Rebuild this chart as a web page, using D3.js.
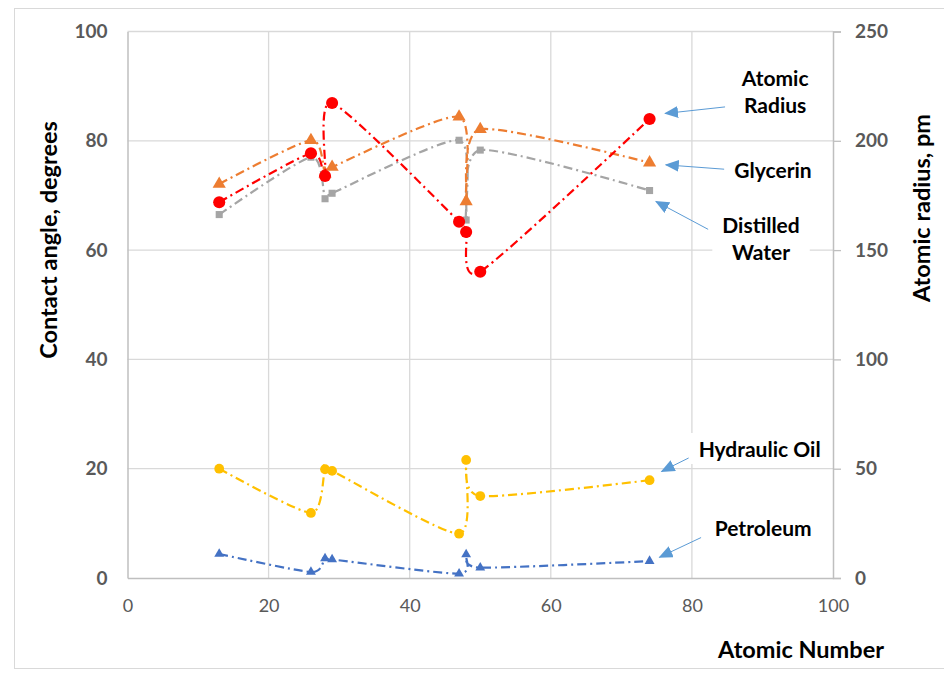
<!DOCTYPE html>
<html>
<head>
<meta charset="utf-8">
<script src="https://cdn.jsdelivr.net/npm/d3@7"></script>
<style>
  body { margin: 0; background: #fff; }
  svg text { font-family: Lato, "Open Sans", sans-serif; }
</style>
</head>
<body>
<svg class="chart"></svg>
<script>
// Chart data
var atomicNumber   = [13, 26, 28, 29, 47, 48, 50, 74];
var distilledWater = [66.5, 77.0, 69.4, 70.4, 80.1, 65.5, 78.3, 70.9];
var glycerin       = [72.1, 80.1, 74.0, 75.2, 84.4, 68.9, 82.1, 76.0];
var hydraulicOil   = [20.0, 11.9, 19.9, 19.6, 8.1, 21.6, 15.0, 17.9];
var petroleum      = [4.4, 1.1, 3.6, 3.4, 0.8, 4.3, 1.9, 3.1];
var atomicRadius   = [171.9, 194.3, 183.9, 217.3, 163.0, 158.3, 140.1, 210.0];

var xTicks = [0, 20, 40, 60, 80, 100];
var leftTicks = [0, 20, 40, 60, 80, 100];
var rightTicks = [0, 50, 100, 150, 200, 250];

// Annotation labels with arrows (given in left-axis data units)
var annotations = [
    { lines: ["Atomic", "Radius"], tx: 91.8, ty: [91.5, 86.7], from: [84.7, 86.2], to: [76.2, 85.0] },
    { lines: ["Glycerin"], tx: 91.5, ty: [74.7], from: [84.6, 74.8], to: [76.3, 75.6] },
    { lines: ["Distilled", "Water"], tx: 89.8, ty: [64.6, 59.7], from: [82.3, 63.8], to: [74.9, 68.9] },
    { lines: ["Hydraulic Oil"], tx: 89.6, ty: [23.7], from: [79.6, 22.0], to: [75.7, 19.5] },
    { lines: ["Petroleum"], tx: 90.1, ty: [9.2], from: [81.3, 7.4], to: [75.4, 3.8] }
];

var width = 944, height = 677;
var plotLeft = 127.5, plotRight = 833, plotTop = 31.5, plotBottom = 578;

var svg = d3.select(".chart").attr("width", width).attr("height", height);

// Outer chart border
svg.append("rect")
    .attr("x", 14.5).attr("y", 8.5)
    .attr("width", 940).attr("height", 660)
    .attr("fill", "none").attr("stroke", "#d9d9d9");

var xScale = d3.scaleLinear().domain([0, 100]).range([plotLeft, plotRight]);
var yLeft = d3.scaleLinear().domain([0, 100]).range([plotBottom, plotTop]);
var yRight = d3.scaleLinear().domain([0, 250]).range([plotBottom, plotTop]);

// Gridlines
svg.append("g").selectAll("line.h").data(leftTicks.slice(1))
    .enter().append("line")
    .attr("x1", plotLeft).attr("x2", plotRight)
    .attr("y1", function(d) { return yLeft(d); })
    .attr("y2", function(d) { return yLeft(d); })
    .attr("stroke", "#d9d9d9").attr("stroke-width", 1.3);

svg.append("g").selectAll("line.v").data(xTicks.slice(1, -1))
    .enter().append("line")
    .attr("x1", function(d) { return xScale(d); })
    .attr("x2", function(d) { return xScale(d); })
    .attr("y1", plotTop).attr("y2", plotBottom)
    .attr("stroke", "#d9d9d9").attr("stroke-width", 1.3);

// Axes
var xAxis = svg.append("g")
    .attr("transform", "translate(0," + plotBottom + ")")
    .call(d3.axisBottom(xScale).tickValues(xTicks).tickSize(0).tickPadding(21));

var leftAxis = svg.append("g")
    .attr("transform", "translate(" + plotLeft + ",0)")
    .call(d3.axisLeft(yLeft).tickValues(leftTicks).tickSize(0).tickPadding(20));

var rightAxis = svg.append("g")
    .attr("transform", "translate(" + plotRight + ",0)")
    .call(d3.axisRight(yRight).tickValues(rightTicks).tickSize(8).tickPadding(14));

[xAxis, leftAxis, rightAxis].forEach(function(a) {
    a.select(".domain").attr("stroke", "#bfbfbf").attr("stroke-width", 1.5);
    a.selectAll(".tick line").attr("stroke", "#bfbfbf").attr("stroke-width", 1.3);
    a.selectAll("text").attr("fill", "#595959").attr("font-family", "Lato, sans-serif");
});
xAxis.selectAll("text").attr("font-size", 18);
leftAxis.selectAll("text").attr("font-size", 19).attr("font-weight", "bold");
rightAxis.selectAll("text").attr("font-size", 19).attr("font-weight", "bold");

// Axis titles
svg.append("text")
    .attr("transform", "translate(48,240) rotate(-90)")
    .attr("text-anchor", "middle").attr("dominant-baseline", "central")
    .attr("font-size", 23.5).attr("font-weight", "bold")
    .text("Contact angle, degrees");

svg.append("text")
    .attr("transform", "translate(921,208) rotate(-90)")
    .attr("text-anchor", "middle").attr("dominant-baseline", "central")
    .attr("font-size", 23.5).attr("font-weight", "bold")
    .text("Atomic radius, pm");

svg.append("text")
    .attr("x", 801).attr("y", 649)
    .attr("text-anchor", "middle").attr("dominant-baseline", "central")
    .attr("font-size", 23.5).attr("font-weight", "bold")
    .text("Atomic Number");

// Series definitions
var series = [
    { name: "Distilled Water", values: distilledWater, y: yLeft, color: "#a5a5a5", symbol: d3.symbolSquare, size: 50 },
    { name: "Glycerin", values: glycerin, y: yLeft, color: "#ed7d31", symbol: d3.symbolTriangle, size: 75 },
    { name: "Hydraulic Oil", values: hydraulicOil, y: yLeft, color: "#ffc000", symbol: d3.symbolCircle, size: 75 },
    { name: "Petroleum", values: petroleum, y: yLeft, color: "#4472c4", symbol: d3.symbolTriangle, size: 42 },
    { name: "Atomic Radius", values: atomicRadius, y: yRight, color: "#ff0000", symbol: d3.symbolCircle, size: 115 }
];

series.forEach(function(s) {
    var pts = atomicNumber.map(function(x, i) { return [xScale(x), s.y(s.values[i])]; });

    // Smoothed line, similar to the spreadsheet's smoothing
    var line = d3.line().curve(d3.curveCardinal.tension(0.3));

    var g = svg.append("g").attr("class", "series");
    g.append("path")
        .attr("d", line(pts))
        .attr("fill", "none")
        .attr("stroke", s.color)
        .attr("stroke-width", 2.2)
        .attr("stroke-dasharray", "9,4,2,4");

    g.selectAll("path.marker").data(pts)
        .enter().append("path")
        .attr("class", "marker")
        .attr("transform", function(d) { return "translate(" + d[0] + "," + d[1] + ")"; })
        .attr("d", d3.symbol().type(s.symbol).size(s.size))
        .attr("fill", s.color);
});

// Arrowhead for annotations
svg.append("defs").append("marker")
    .attr("id", "arrow")
    .attr("markerUnits", "userSpaceOnUse")
    .attr("markerWidth", 14).attr("markerHeight", 12)
    .attr("refX", 13).attr("refY", 6)
    .attr("orient", "auto")
    .append("path")
    .attr("d", "M0,0 L14,6 L0,12 Z")
    .attr("fill", "#5b9bd5");

var notes = svg.append("g").attr("class", "annotations");

annotations.forEach(function(a) {
    notes.append("line")
        .attr("x1", xScale(a.from[0])).attr("y1", yLeft(a.from[1]))
        .attr("x2", xScale(a.to[0])).attr("y2", yLeft(a.to[1]))
        .attr("stroke", "#5b9bd5").attr("stroke-width", 1)
        .attr("marker-end", "url(#arrow)");

    var block = notes.append("g");
    a.lines.forEach(function(t, i) {
        block.append("text")
            .attr("x", xScale(a.tx)).attr("y", yLeft(a.ty[i]))
            .attr("text-anchor", "middle").attr("dominant-baseline", "central")
            .attr("font-size", 21).attr("font-weight", "bold")
            .attr("fill", "#000")
            .text(t);
    });

    // White box behind the label, like the reference text boxes
    var bb = block.node().getBBox();
    block.insert("rect", "text")
        .attr("x", bb.x - 10).attr("y", bb.y - 3)
        .attr("width", bb.width + 20).attr("height", bb.height + 6)
        .attr("fill", "#fff");
});
</script>
</body>
</html>
